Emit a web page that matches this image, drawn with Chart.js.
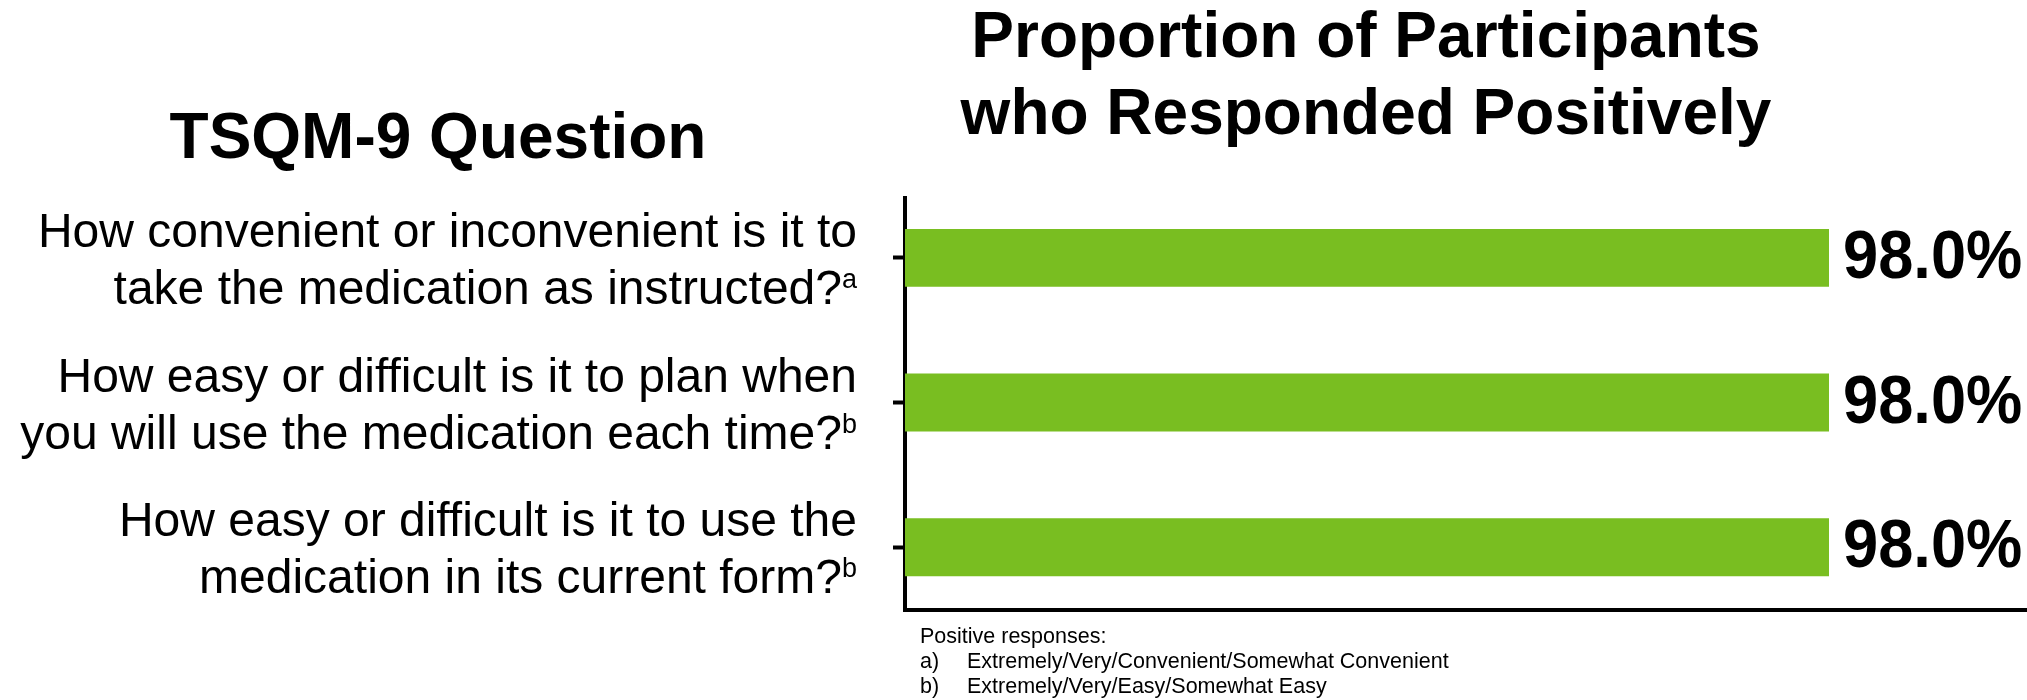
<!DOCTYPE html>
<html>
<head>
<meta charset="utf-8">
<script src="https://cdn.jsdelivr.net/npm/chart.js@4/dist/chart.umd.min.js"></script>
<style>
  html, body { margin: 0; padding: 0; background: #fff; }
  #wrap { position: relative; width: 2027px; height: 700px; }
</style>
</head>
<body>
<div id="wrap"><canvas id="chart-1"></canvas></div>
<script>
// data
const questions = [
  ["How convenient or inconvenient is it to", "take the medication as instructed?"],
  ["How easy or difficult is it to plan when", "you will use the medication each time?"],
  ["How easy or difficult is it to use the", "medication in its current form?"],
];
const footMarks = ["a", "b", "b"];
const positive = [98.0, 98.0, 98.0];
const footnotes = [
  ["a)", "Extremely/Very/Convenient/Somewhat Convenient"],
  ["b)", "Extremely/Very/Easy/Somewhat Easy"],
];

const FONT = '"Liberation Sans", Arial, Helvetica, sans-serif';
const GREEN = "#79BE21";

// question labels next to the y axis, with superscript marks
const questionLabels = {
  id: "questionLabels",
  afterDraw(chart) {
    const ctx = chart.ctx;
    const yScale = chart.scales.y;
    const right = chart.chartArea.left - 48;
    ctx.save();
    ctx.fillStyle = "#000";
    ctx.textBaseline = "alphabetic";
    ctx.textAlign = "right";
    questions.forEach((lines, i) => {
      const y = yScale.getPixelForValue(i);
      ctx.font = "27px " + FONT;
      const supW = ctx.measureText(footMarks[i]).width;
      ctx.fillText(footMarks[i], right, y + 46 - 16);
      ctx.font = "48px " + FONT;
      ctx.fillText(lines[0], right, y - 11);
      ctx.fillText(lines[1], right - supW, y + 46);
    });
    ctx.restore();
  },
};

// value labels at the end of each bar (squeezed like on the slide)
const valueLabels = {
  id: "valueLabels",
  afterDatasetsDraw(chart) {
    const ctx = chart.ctx;
    const meta = chart.getDatasetMeta(0);
    ctx.save();
    ctx.fillStyle = "#000";
    ctx.font = "bold 68px " + FONT;
    ctx.textAlign = "left";
    ctx.textBaseline = "alphabetic";
    meta.data.forEach((bar, i) => {
      ctx.save();
      ctx.translate(bar.x + 14, bar.y + 20);
      ctx.scale(0.93, 1);
      ctx.fillText(positive[i].toFixed(1) + "%", 0, 0);
      ctx.restore();
    });
    ctx.restore();
  },
};

// headings and footnote
const slideText = {
  id: "slideText",
  afterDraw(chart) {
    const ctx = chart.ctx;
    ctx.save();
    ctx.fillStyle = "#000";
    ctx.textBaseline = "alphabetic";
    ctx.textAlign = "center";
    ctx.font = "bold 64px " + FONT;
    ctx.fillText("TSQM-9 Question", 438, 158);
    ctx.fillText("Proportion of Participants", 1366, 57);
    ctx.fillText("who Responded Positively", 1366, 134);

    ctx.textAlign = "left";
    ctx.font = "21.5px " + FONT;
    ctx.fillText("Positive responses:", 920, 643);
    footnotes.forEach((f, i) => {
      ctx.fillText(f[0], 920, 668 + i * 25);
      ctx.fillText(f[1], 967, 668 + i * 25);
    });
    ctx.restore();
  },
};

const ctx1 = document.getElementById("chart-1").getContext("2d");
const myChart = new Chart(ctx1, {
  type: "bar",
  data: {
    datasets: [
      {
        label: "Responded positively",
        data: positive.map((v, i) => ({ x: v, y: i })),
        backgroundColor: GREEN,
        categoryPercentage: 1,
        barPercentage: 0.4,
      },
    ],
  },
  options: {
    indexAxis: "y",
    responsive: true,
    maintainAspectRatio: false,
    animation: false,
    layout: { padding: { top: 198, left: 0, right: 0, bottom: 0 } },
    plugins: {
      legend: { display: false },
      tooltip: { enabled: false },
      title: { display: false },
    },
    scales: {
      x: {
        type: "linear",
        min: 0,
        max: 119,
        grid: { display: false },
        ticks: { display: false },
        border: { display: true, color: "#000", width: 4 },
        afterFit(scale) { scale.height = 90; },
      },
      y: {
        type: "linear",
        reverse: true,
        offset: false,
        min: -0.414,
        max: 2.434,
        afterBuildTicks(scale) {
          scale.ticks = questions.map((q, i) => ({ value: i }));
        },
        grid: {
          display: true,
          offset: false,
          drawOnChartArea: false,
          drawTicks: true,
          tickLength: 12,
          tickWidth: 4,
          tickColor: "#000",
        },
        ticks: { display: false },
        border: { display: true, color: "#000", width: 4 },
        afterFit(scale) { scale.width = 905; },
      },
    },
  },
  plugins: [valueLabels, questionLabels, slideText],
});
</script>
</body>
</html>
